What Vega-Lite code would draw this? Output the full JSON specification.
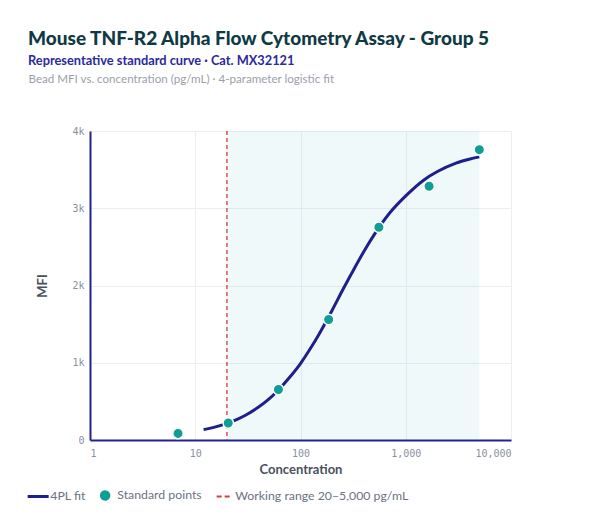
{
  "$schema": "https://vega.github.io/schema/vega-lite/v6.json",
  "autosize": "none",
  "width": 421,
  "height": 309,
  "padding": {"left": 90, "top": 131, "right": 89, "bottom": 85},
  "background": "white",
  "config": {
    "view": {"stroke": null},
    "font": "Lato"
  },
  "title": {
    "text": "Mouse TNF-R2 Alpha Flow Cytometry Assay - Group 5",
    "subtitle": "Representative standard curve · Cat. MX32121",
    "anchor": "start",
    "frame": "group",
    "dx": -62,
    "offset": 5,
    "font": "Lato",
    "fontSize": 19,
    "fontWeight": 900,
    "color": "#0f3a45",
    "subtitleFont": "Lato",
    "subtitleFontSize": 12.8,
    "subtitleFontWeight": 700,
    "subtitleColor": "#2a2a9c",
    "subtitlePadding": 6
  },
  "datasets": {
    "range": [{"lo": 20, "hi": 5000, "series": "Working range 20–5,000 pg/mL"}],
    "curve": [
      {"conc": 12, "mfi": 134}, {"conc": 15, "mfi": 164}, {"conc": 20, "mfi": 216},
      {"conc": 25, "mfi": 268}, {"conc": 30, "mfi": 321}, {"conc": 40, "mfi": 426},
      {"conc": 50, "mfi": 528}, {"conc": 60, "mfi": 631}, {"conc": 80, "mfi": 822},
      {"conc": 100, "mfi": 990}, {"conc": 125, "mfi": 1190}, {"conc": 150, "mfi": 1370},
      {"conc": 200, "mfi": 1680}, {"conc": 250, "mfi": 1935}, {"conc": 300, "mfi": 2135},
      {"conc": 400, "mfi": 2440}, {"conc": 500, "mfi": 2655}, {"conc": 700, "mfi": 2935},
      {"conc": 1000, "mfi": 3160}, {"conc": 1500, "mfi": 3370}, {"conc": 2000, "mfi": 3475},
      {"conc": 3000, "mfi": 3585}, {"conc": 4000, "mfi": 3635}, {"conc": 5000, "mfi": 3665}
    ],
    "points": [
      {"conc": 6.86, "mfi": 85}, {"conc": 20.58, "mfi": 220}, {"conc": 61.73, "mfi": 654},
      {"conc": 185.2, "mfi": 1560}, {"conc": 555.6, "mfi": 2754}, {"conc": 1666.7, "mfi": 3285},
      {"conc": 5000, "mfi": 3758}
    ]
  },
  "resolve": {"axis": {"x": "independent"}},
  "layer": [
    {
      "data": {"name": "range"},
      "mark": {"type": "rect", "color": "#19a7b5", "opacity": 0.07},
      "encoding": {
        "x": {
          "field": "lo", "type": "quantitative",
          "scale": {"type": "log", "domain": [1, 10000]},
          "axis": {
            "orient": "top", "labels": false, "ticks": false, "domain": false, "grid": false,
            "title": "Bead MFI vs. concentration (pg/mL) · 4-parameter logistic fit",
            "titleAnchor": "start", "titleAlign": "left", "titleX": -62, "titleY": -49,
            "titleBaseline": "alphabetic", "titleFont": "Lato", "titleFontSize": 11.6,
            "titleFontWeight": "normal", "titleColor": "#9aa0aa"
          }
        },
        "x2": {"field": "hi"}
      }
    },
    {
      "data": {"name": "range"},
      "mark": {"type": "rule", "strokeDash": [4, 3], "strokeWidth": 1.3},
      "encoding": {
        "x": {"field": "lo", "type": "quantitative", "scale": {"type": "log", "domain": [1, 10000]}, "axis": null},
        "color": {"field": "series", "type": "nominal"}
      }
    },
    {
      "data": {"name": "curve"},
      "transform": [{"calculate": "'4PL fit'", "as": "series"}],
      "mark": {"type": "line", "strokeWidth": 3, "interpolate": "monotone"},
      "encoding": {
        "x": {"field": "conc", "type": "quantitative", "scale": {"type": "log", "domain": [1, 10000]}, "axis": null},
        "y": {"field": "mfi", "type": "quantitative"},
        "color": {
          "field": "series", "type": "nominal",
          "scale": {
            "domain": ["4PL fit", "Standard points", "Working range 20–5,000 pg/mL"],
            "range": ["#1f1f8c", "#0e9e96", "#d63a3a"]
          },
          "legend": {
            "orient": "none", "direction": "horizontal", "legendX": -58, "legendY": 358,
            "title": null, "labelFont": "Lato", "labelFontSize": 12.3, "labelColor": "#6b7280",
            "labelOffset": 6, "labelLimit": 400, "columnPadding": 10, "symbolSize": 441,
            "encode": {
              "symbols": {
                "update": {
                  "shape": {"signal": "datum.value === 'Standard points' ? 'circle' : 'stroke'"},
                  "size": {"signal": "datum.value === 'Standard points' ? 70 : (datum.value === '4PL fit' ? 441 : 169)"},
                  "fill": {"signal": "datum.value === 'Standard points' ? '#0e9e96' : 'transparent'"},
                  "stroke": {"signal": "datum.value === 'Standard points' ? '#d6dae1' : (datum.value === '4PL fit' ? '#1f1f8c' : '#d63a3a')"},
                  "strokeWidth": {"signal": "datum.value === '4PL fit' ? 3 : 2"},
                  "strokeDash": {"signal": "datum.value === 'Working range 20–5,000 pg/mL' ? [5, 3] : [1, 0]"},
                  "opacity": {"value": 1}
                }
              }
            }
          }
        }
      }
    },
    {
      "data": {"name": "points"},
      "transform": [{"calculate": "'Standard points'", "as": "series"}],
      "mark": {"type": "point", "filled": true, "size": 110, "stroke": "white", "strokeWidth": 1.5, "opacity": 1},
      "encoding": {
        "x": {
          "field": "conc", "type": "quantitative",
          "scale": {"type": "log", "domain": [1, 10000]},
          "axis": {
            "values": [1, 10, 100, 1000, 10000], "format": ",",
            "title": "Concentration", "titleFont": "Lato", "titleFontSize": 13, "titleFontWeight": 700,
            "titleColor": "#4a5060", "titlePadding": 5,
            "labelFont": "DejaVu Sans Mono", "labelFontSize": 10, "labelColor": "#8a8fa0", "labelPadding": 8,
            "ticks": false, "domainColor": "#23238e", "domainWidth": 2,
            "grid": true, "gridColor": "#eceef2", "gridWidth": 1
          }
        },
        "y": {
          "field": "mfi", "type": "quantitative",
          "scale": {"domain": [0, 4000]},
          "axis": {
            "values": [0, 1000, 2000, 3000, 4000],
            "labelExpr": "datum.value === 0 ? '0' : format(datum.value / 1000, 'd') + 'k'",
            "title": "MFI", "titleFont": "Lato", "titleFontSize": 13, "titleFontWeight": 700,
            "titleColor": "#4a5060", "titlePadding": 22,
            "labelFont": "DejaVu Sans Mono", "labelFontSize": 10, "labelColor": "#8a8fa0", "labelPadding": 6,
            "ticks": false, "domainColor": "#23238e", "domainWidth": 2,
            "grid": true, "gridColor": "#eceef2", "gridWidth": 1
          }
        },
        "color": {"field": "series", "type": "nominal"}
      }
    }
  ]
}
